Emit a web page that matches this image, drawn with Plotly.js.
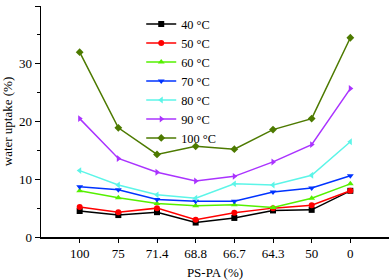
<!DOCTYPE html>
<html><head><meta charset="utf-8">
<script src="https://cdn.plot.ly/plotly-3.0.1.min.js"></script>
<style>html,body{margin:0;padding:0;background:#fff}#c{width:392px;height:280px}</style>
</head><body><div id="c"></div>
<script>
var categories = ["100","75","71.4","68.8","66.7","64.3","50","0"];
var names = ["40 °C","50 °C","60 °C","70 °C","80 °C","90 °C","100 °C"];
var s40  = [4.5, 3.8, 4.3, 2.5, 3.3, 4.6, 4.7, 8.0];
var s50  = [5.2, 4.3, 5.0, 3.0, 4.2, 5.0, 5.5, 8.0];
var s60  = [8.0, 6.8, 5.8, 5.4, 5.6, 5.1, 6.7, 9.2];
var s70  = [8.7, 8.2, 6.5, 6.2, 6.2, 7.8, 8.5, 10.6];
var s80  = [11.5, 9.0, 7.3, 6.7, 9.2, 9.0, 10.7, 16.5];
var s90  = [20.5, 13.6, 11.2, 9.7, 10.5, 13.0, 16.0, 25.7];
var s100 = [32.0, 18.9, 14.3, 15.7, 15.2, 18.6, 20.5, 34.5];
var series = [s40, s50, s60, s70, s80, s90, s100];
var colors = ["#000000","#ff0000","#55f000","#0033ff","#5cf5e8","#aa33ff","#4d7a00"];
var symbols = ["square","circle","triangle-up","triangle-down","triangle-left","triangle-right","diamond"];

var idx = categories.map(function(c,i){return i;});
var traces = series.map(function(s,i){
  return {x: idx, y: s, name: names[i], type:"scatter", mode:"lines+markers",
    line:{color:colors[i], width:1.5},
    marker:{color:colors[i], symbol:symbols[i], size:6}};
});
var font = {family:"Liberation Serif", size:13, color:"#000"};
var legFont = {family:"Liberation Serif", size:12.3, color:"#000"};
var layout = {
  width:392, height:280,
  margin:{l:41, r:3, t:6, b:43},
  paper_bgcolor:"#fff", plot_bgcolor:"#fff",
  font: font,
  showlegend:true,
  legend:{x:0.288, y:0.985, xanchor:"left", yanchor:"top", bgcolor:"rgba(0,0,0,0)",
    font:legFont},
  xaxis:{type:"linear", range:[-1,8], tickvals:idx, ticktext:categories,
    showgrid:false, zeroline:false, showline:true, linecolor:"#000", linewidth:1.5,
    ticks:"outside", ticklen:4, tickwidth:1, tickcolor:"#000",
    title:{text:"PS-PA (%)", font:font, standoff:8}},
  yaxis:{range:[0,40], dtick:10, showgrid:false, zeroline:false, showline:true,
    linecolor:"#000", linewidth:1.5, ticks:"outside", ticklen:5, tickwidth:1, tickcolor:"#000",
    minor:{dtick:5, ticks:"outside", ticklen:3, tickcolor:"#000"},
    title:{text:"water uptake (%)", font:font, standoff:5}},
  xaxis2:{overlaying:"x", side:"top", type:"linear", range:[-1,8], tickvals:idx,
    showticklabels:false, showgrid:false, zeroline:false, showline:true, linecolor:"#000",
    linewidth:1.5, ticks:"inside", ticklen:4, tickcolor:"#000"},
  yaxis2:{overlaying:"y", side:"right", range:[0,40], dtick:10, showticklabels:false,
    showgrid:false, zeroline:false, showline:true, linecolor:"#000", linewidth:1.5,
    ticks:"inside", ticklen:5, tickcolor:"#000",
    minor:{dtick:5, ticks:"inside", ticklen:3, tickcolor:"#000"}}
};
Plotly.newPlot("c", traces, layout, {displayModeBar:false, staticPlot:true});
</script></body></html>
